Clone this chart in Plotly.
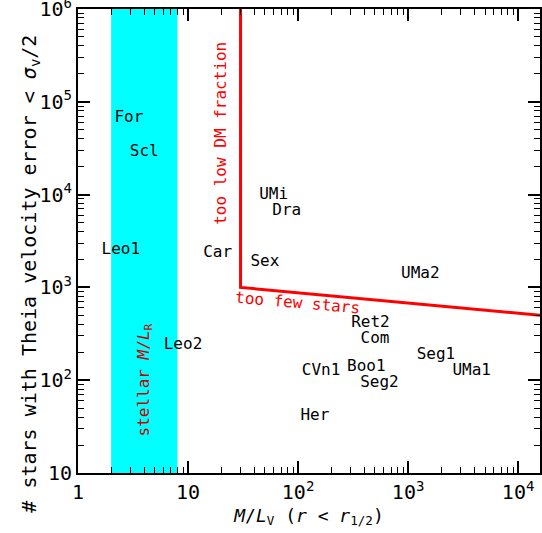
import numpy as np
import plotly.graph_objects as go

# galaxies: name, M/L_V, number of stars
names = ['For', 'Scl', 'Leo1', 'Leo2', 'Car', 'UMi', 'Dra', 'Sex', 'UMa2',
         'Ret2', 'Com', 'Seg1', 'UMa1', 'CVn1', 'Boo1', 'Seg2', 'Her']
ml_v = [2.9, 4.0, 2.45, 9.0, 18.6, 60, 79, 50, 1290,
        455, 500, 1790, 3780, 162, 417, 549, 142]
n_stars = [67000, 29000, 2500, 240, 2350, 10000, 6700, 1870, 1380,
           410, 277, 187, 126, 126, 138, 93, 41]

# stellar M/L band
stellar_ml = [2, 8]
# limits: too low DM fraction / too few stars
limit_x = [30, 30, 15800]
limit_y = [1e6, 1000, 500]

FONT = 'DejaVu Sans Mono'

fig = go.Figure()

fig.add_trace(go.Scatter(
    x=[stellar_ml[0], stellar_ml[1], stellar_ml[1], stellar_ml[0], stellar_ml[0]],
    y=[10, 10, 1e6, 1e6, 10],
    fill='toself', fillcolor='#00ffff', line=dict(width=0),
    mode='lines', hoverinfo='skip'))

fig.add_trace(go.Scatter(x=limit_x, y=limit_y, mode='lines',
                         line=dict(color='#ff0000', width=3)))

fig.add_trace(go.Scatter(x=ml_v, y=n_stars, mode='text', text=names,
                         textposition='middle center',
                         textfont=dict(family=FONT, size=16, color='black')))

red_font = dict(family=FONT, size=16, color='#ff0000')
fig.add_annotation(x=np.log10(19.4), y=np.log10(4.6e4), text='too low DM fraction',
                   textangle=-90, showarrow=False, font=red_font)
fig.add_annotation(x=np.log10(98), y=np.log10(680), text='too few stars',
                   textangle=5, showarrow=False, font=red_font)
fig.add_annotation(x=np.log10(4.0), y=np.log10(100),
                   text='stellar <i>M</i>/<i>L</i><sub>R</sub>',
                   textangle=-90, showarrow=False,
                   font=dict(family=FONT, size=16, color='#c80000'))

# y axis title (sits a bit below the axis centre in the original)
fig.add_annotation(xref='paper', yref='paper', x=-0.136, y=0.43,
                   text='# stars with Theia velocity error < <i>σ</i><sub>v</sub>/2',
                   textangle=-90, showarrow=False,
                   font=dict(family=FONT, size=20, color='black'))

minor_x = [m * 10 ** d for d in range(0, 5) for m in range(2, 10)]
minor_y = [m * 10 ** d for d in range(1, 6) for m in range(2, 10)]

axis_common = dict(type='log', showgrid=False, zeroline=False, showline=True,
                   linecolor='black', linewidth=2, mirror='allticks',
                   ticks='inside', ticklen=12, tickwidth=1.5, tickcolor='black',
                   automargin=False, ticklabeloverflow='allow',
                   tickfont=dict(family=FONT, size=20, color='black'))

fig.update_xaxes(**axis_common, range=[0, np.log10(15800)],
                 tickvals=[1, 10, 100, 1000, 10000],
                 ticktext=['1', '10', '10<sup>2</sup>', '10<sup>3</sup>', '10<sup>4</sup>'],
                 minor=dict(tickvals=minor_x, ticks='inside', ticklen=6,
                            tickwidth=1.2, tickcolor='black'),
                 title=dict(text='<i>M</i>/<i>L</i><sub>V</sub> (<i>r</i> < <i>r</i><sub>1/2</sub>)',
                            font=dict(family=FONT, size=18, color='black'),
                            standoff=6))
fig.update_yaxes(**axis_common, range=[1, 6],
                 tickvals=[10, 100, 1000, 1e4, 1e5, 1e6],
                 ticktext=['10', '10<sup>2</sup>', '10<sup>3</sup>', '10<sup>4</sup>',
                           '10<sup>5</sup>', '10<sup>6</sup>'],
                 minor=dict(tickvals=minor_y, ticks='inside', ticklen=6,
                            tickwidth=1.2, tickcolor='black'))

fig.update_layout(width=542, height=533, showlegend=False,
                  plot_bgcolor='white', paper_bgcolor='white',
                  margin=dict(l=78, r=2, t=9, b=60))

fig.write_html('out.html', config={'displayModeBar': False},
               post_script="document.body.style.margin='0';")
